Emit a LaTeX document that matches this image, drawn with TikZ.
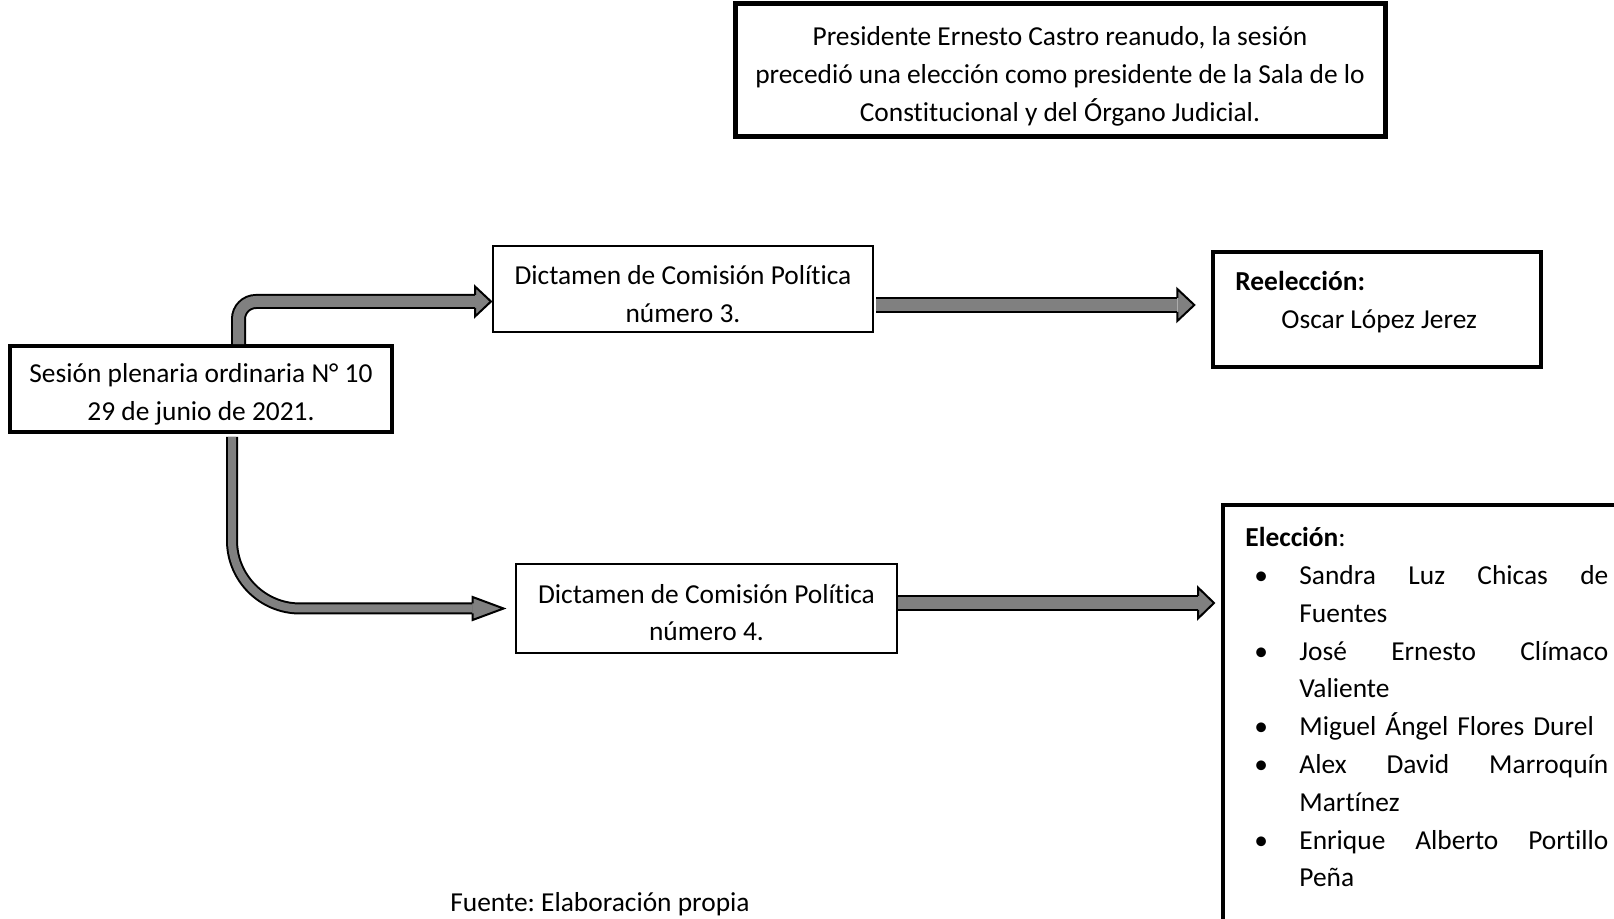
\documentclass[tikz,border=0pt]{standalone}
\usepackage{fontspec}
\setmainfont{Carlito}[Ligatures=NoCommon]
\usepackage{xcolor}
\usetikzlibrary{calc}
\definecolor{arrowgray}{HTML}{808080}
\newcommand\elecbullet{\makebox[27pt][l]{\hspace*{4.5pt}\textbullet}}
\newcommand\elecrest{\hspace*{27pt}}
\frenchspacing

\begin{document}
\begin{tikzpicture}[x=0.5pt, y=-0.5pt,
        every node/.style={font=\fontsize{13.7}{18.9}\selectfont, inner sep=0pt},
        box/.style={draw, fill=white},
        boxtext/.style={align=center},
        shaft/.style={draw=black, line width=1pt, double=arrowgray, double distance=#1},
        pics/arrowhead/.style args={#1/#2/#3}{code={
            \fill[arrowgray] (0,-#2) -- (#3,0) -- (0,#2) -- cycle;
            \draw[line width=1pt] (0,-#1) -- (0,-#2) -- (#3,0) -- (0,#2) -- (0,#1);
        }}]
        \useasboundingbox (0,0) rectangle (1614,919);
        \clip (0,0) rectangle (1614,919);

        % boxes
        \node[box, line width=2.5pt, minimum width=325pt, minimum height=66.5pt] (pres) at (1060,70.5) {};
        \node[box, line width=1.8pt, minimum width=191pt, minimum height=43pt] (sesion) at (201,389) {};
        \node[box, line width=1pt, minimum width=190pt, minimum height=43pt] (dict3) at (683,289) {};
        \node[box, line width=1.4pt, minimum width=190.5pt, minimum height=44.5pt] (dict4) at (706.5,608.5) {};
        \node[box, line width=1.7pt, minimum width=164pt, minimum height=57.5pt] (reel) at (1377,309.5) {};
        \node[box, line width=2pt, minimum width=213.5pt, minimum height=208pt] (elec) at (1436.5,713) {};

        % texts
        \node[boxtext] (prestxt) at ($(pres)+(0,6)$)
            {Presidente Ernesto Castro reanudo, la sesión\\precedió una elección como presidente de la Sala de lo\\Constitucional y del Órgano Judicial.};
        \node[boxtext] (sesiontxt) at ($(sesion)+(0,5)$) {Sesión plenaria ordinaria N° 10\\29 de junio de 2021.};
        \node[boxtext] (dict3txt) at ($(dict3)+(0,5)$) {Dictamen de Comisión Política\\número 3.};
        \node[boxtext] (dict4txt) at ($(dict4)+(0,4)$) {Dictamen de Comisión Política\\número 4.};
        \node[anchor=north west, align=left] (reeltxt) at (1235,271)
            {\textbf{Reelección:}\\\hspace*{23pt}Oscar López Jerez};
        \node[anchor=north west, align=left, text width=181.5pt] (electxt) at (1245,527) {%
            \textbf{Elección}:\\
            \elecbullet Sandra\hfill Luz\hfill Chicas\hfill de\\
            \elecrest Fuentes\\
            \elecbullet José\hfill Ernesto\hfill Clímaco\\
            \elecrest Valiente\\
            \elecbullet Miguel Ángel Flores Durel\\
            \elecbullet Alex\hfill David\hfill Marroquín\\
            \elecrest Martínez\\
            \elecbullet Enrique\hfill Alberto\hfill Portillo\\
            \elecrest Peña};
        \node (fuente) at (600,904) {Fuente: Elaboración propia};

        % block arrows
        \coordinate (h3) at ($(dict3.west)+(-17,12.5)$);
        \coordinate (h4) at ($(dict4.west)+(-42,0)$);
        \coordinate (r3) at ($(reel.west)+(-34,-4.5)$);
        \coordinate (r4) at ($(elec.north west)+(-23,100)$);
        \draw[shaft=5.5pt, rounded corners=8.75pt] ($(sesion.north)+(37.5,0)$) |- (h3);
        \pic at (h3) {arrowhead=6.5/15/16};
        \draw[shaft=4pt, rounded corners=34pt] ($(sesion.south)+(31,3)$) |- (h4);
        \pic at (h4) {arrowhead=5/11.5/31};
        \draw[shaft=6pt] ($(dict3.east)+(2,16)$) -- (r3);
        \pic at (r3) {arrowhead=7/16/17};
        \draw[shaft=6pt] ($(dict4.east)+(0,-5.5)$) -- (r4);
        \pic at (r4) {arrowhead=7/15.5/16};
    \end{tikzpicture}
\end{document}
